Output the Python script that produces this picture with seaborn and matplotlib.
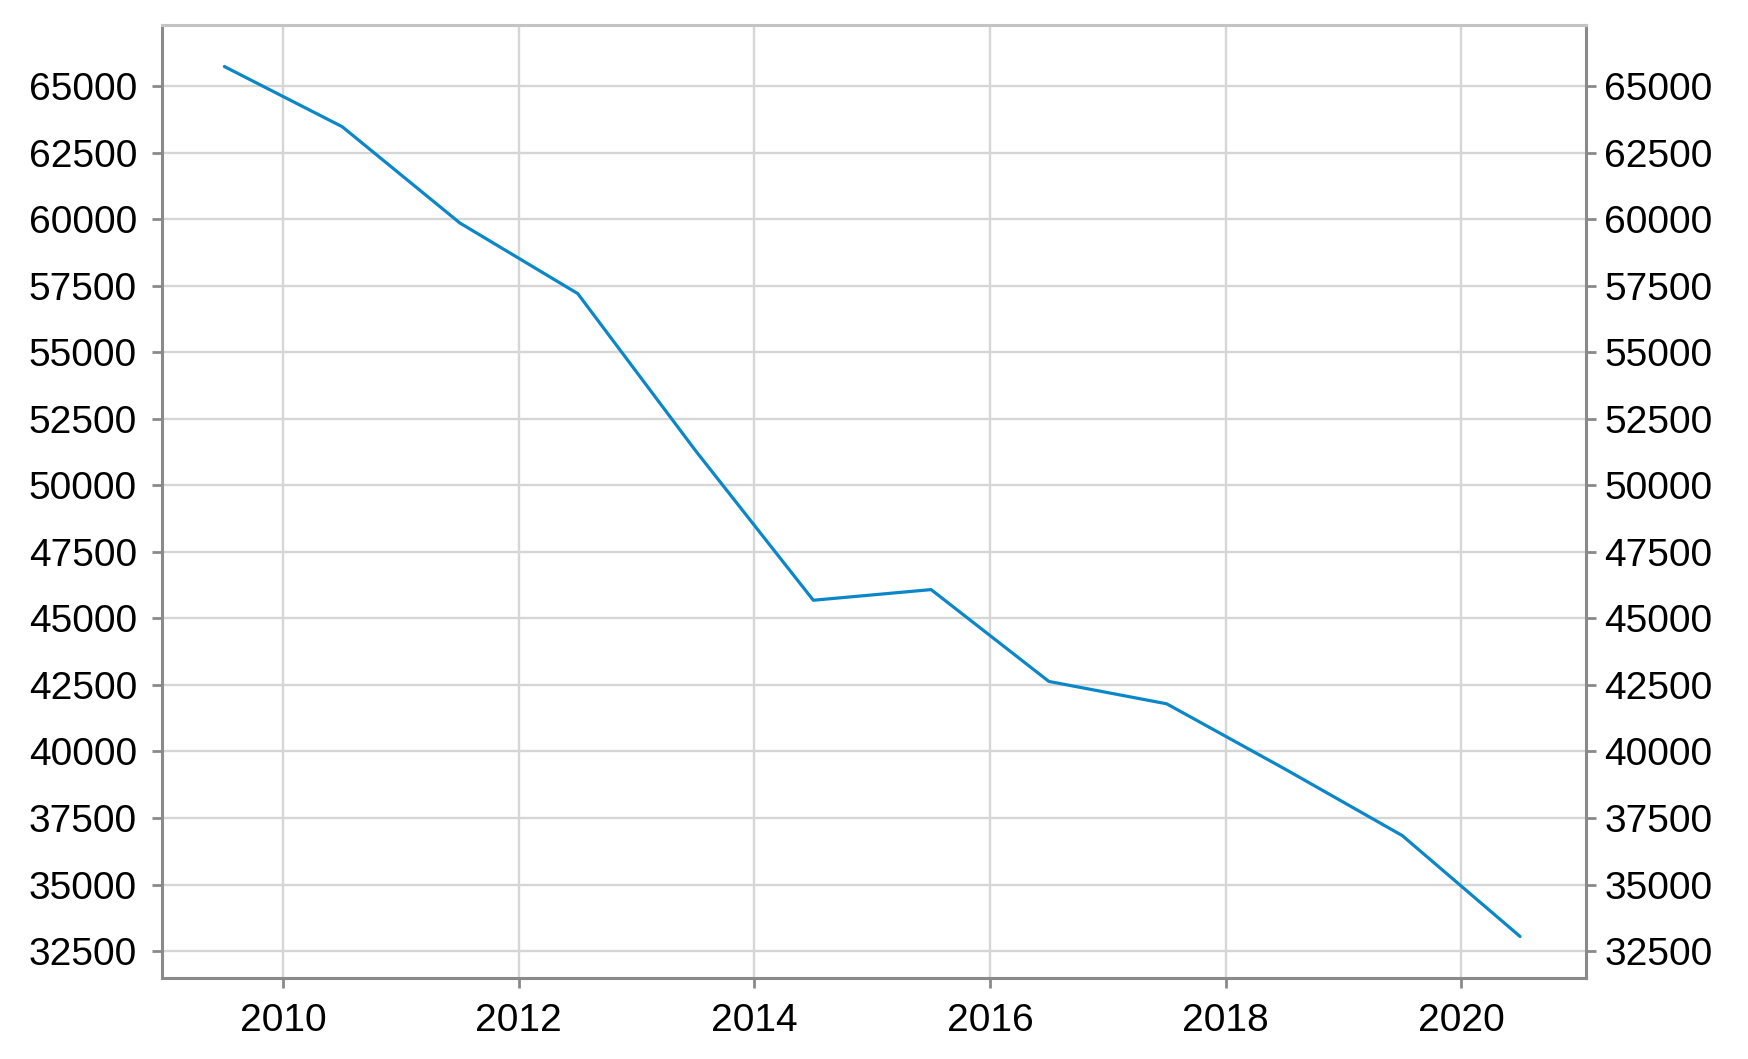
import pandas as pd
import matplotlib
matplotlib.use("Agg")
import matplotlib.pyplot as plt
import seaborn as sns

# values (mid-year points)
years = [2009.5, 2010.5, 2011.5, 2012.5, 2013.5, 2014.5,
         2015.5, 2016.5, 2017.5, 2018.5, 2019.5, 2020.5]
values = [65730, 63470, 59850, 57200, 51300, 45680,
          46080, 42630, 41790, 39350, 36840, 33050]
y_ticks = list(range(32500, 65001, 2500))
x_ticks = [2010, 2012, 2014, 2016, 2018, 2020]

df = pd.DataFrame({"year": years, "value": values})

sns.set_style("whitegrid")
plt.rcParams["font.family"] = ["Liberation Sans", "DejaVu Sans"]

spine_col = "#8a8a8a"
grid_col = "#d6d6d6"
fsize = 28

fig, ax = plt.subplots(figsize=(17.49, 10.59), dpi=100)
fig.subplots_adjust(left=0.0926, right=0.9068, bottom=0.0765, top=0.9764)

sns.lineplot(data=df, x="year", y="value", ax=ax, color="#0a87c8", linewidth=2.3)

ax.set_xticks(x_ticks)
ax.set_yticks(y_ticks)
ax.set_xlim(2008.97, 2021.06)
ax.set_ylim(31490, 67290)
ax.set_xlabel("")
ax.set_ylabel("")
ax.grid(True, color=grid_col, linewidth=1.7)

for s in ax.spines.values():
    s.set_color(spine_col)
    s.set_linewidth(2.2)
ax.spines["top"].set_color("#c4c4c4")

ax.tick_params(axis="both", colors=spine_col, labelcolor="black",
               labelsize=fsize, length=7, width=2)
ax.tick_params(axis="x", pad=11, bottom=True)
ax.tick_params(axis="y", pad=11, left=True)

# right-hand copy of the y axis
ax2 = ax.twinx()
ax2.set_ylim(ax.get_ylim())
ax2.set_yticks(y_ticks)
ax2.grid(False)
for s in ax2.spines.values():
    s.set_visible(False)
ax.spines["right"].set_color(spine_col)
ax2.tick_params(axis="y", colors=spine_col, labelcolor="black",
                labelsize=fsize, length=7, width=2, pad=6, right=True)

fig.savefig("out.png", dpi=100)
